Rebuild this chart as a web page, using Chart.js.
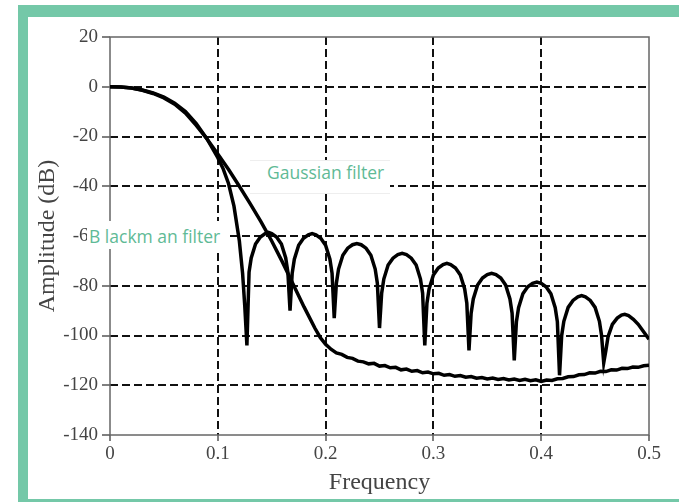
<!DOCTYPE html>
<html><head><meta charset="utf-8">
<script src="https://cdn.jsdelivr.net/npm/chart.js@4"></script>
<style>
html,body{margin:0;padding:0;background:#fff;overflow:hidden}
#wrap{position:relative;width:679px;height:502px;overflow:hidden}
#c{position:absolute;left:0;top:0}
#frame{position:absolute;left:18px;top:5px;width:700px;height:482px;border-top:12px solid #74c8a8;border-left:10px solid #74c8a8;border-bottom:6px solid #74c8a8;pointer-events:none}
.lbl{position:absolute;background:#fff;color:#5fba96;font-family:'Open Sans','Noto Sans',sans-serif;font-size:17.5px;line-height:22px;white-space:nowrap;box-sizing:border-box}
</style></head>
<body>
<div id="wrap">
<canvas id="c" width="679" height="502"></canvas>
<div id="frame"></div>
<div class="lbl" style="left:250px;top:160px;width:140px;height:34px;padding-left:17px;border-top:1px solid #eee;border-bottom:1px solid #eee;">Gaussian filter</div>
<div class="lbl" style="left:87px;top:221px;width:139px;height:28px;padding-left:2px;padding-top:4px;">B lackm an filter</div>
</div>
<script>
// ---- data ----
const xTickValues = [0, 0.1, 0.2, 0.3, 0.4, 0.5];
const xTickLabels = ['0', '0.1', '0.2', '0.3', '0.4', '0.5'];
const yTickValues = [20, 0, -20, -40, -60, -80, -100, -120, -140];
const yTickLabels = ['20', '0', '-20', '-40', '-60', '-80', '-100', '-120', '-140'];

const gaussianFreq = [0,0.01,0.02,0.03,0.04,0.05,0.06,0.07,0.08,0.09,0.1,0.11,0.12,0.13,0.14,0.15,0.16,0.17,0.18,0.19,0.195,0.2,0.205,0.21,0.215,0.22,0.225,0.23,0.235,0.24,0.245,0.25,0.255,0.26,0.265,0.27,0.275,0.28,0.285,0.29,0.295,0.3,0.305,0.31,0.315,0.32,0.325,0.33,0.335,0.34,0.345,0.35,0.355,0.36,0.365,0.37,0.375,0.38,0.385,0.39,0.395,0.4,0.405,0.41,0.415,0.42,0.425,0.43,0.435,0.44,0.445,0.45,0.455,0.46,0.465,0.47,0.475,0.48,0.485,0.49,0.495,0.5];
const gaussianAmp = [0,-0.1,-0.5,-1.4,-2.7,-4.5,-7,-10.6,-15.5,-21,-27,-33.3,-40,-47,-54.2,-62,-70.5,-79.5,-88.5,-97,-100.8,-103.5,-105.5,-107,-107.6,-108.8,-109.2,-110.3,-110.6,-111.4,-111.2,-112.3,-112.1,-113,-112.8,-113.8,-113.5,-114.4,-114.1,-115,-114.7,-115.4,-115.2,-116,-115.7,-116.4,-116.1,-116.8,-116.5,-117.2,-116.9,-117.5,-117.1,-117.7,-117.3,-117.9,-117.5,-118.1,-117.6,-118.2,-117.8,-118.5,-117.9,-118.1,-117.4,-117.3,-116.6,-116.5,-115.8,-115.7,-115,-115.1,-114.4,-114.5,-113.8,-113.9,-113.2,-113.3,-112.7,-112.8,-112.2,-112];

const blackmanFreq = [0,0.01,0.02,0.03,0.04,0.05,0.06,0.07,0.08,0.09,0.1,0.105,0.11,0.115,0.12,0.123,0.125,0.127,
 0.129,0.131,0.135,0.1395,0.144,0.147,0.15,0.1545,0.159,0.163,0.165,0.167,
 0.169,0.171,0.175,0.1795,0.184,0.1875,0.191,0.1955,0.2,0.204,0.206,0.208,
 0.21,0.212,0.216,0.2205,0.225,0.229,0.233,0.2375,0.242,0.246,0.248,0.25,
 0.252,0.254,0.258,0.2625,0.267,0.271,0.275,0.2795,0.284,0.288,0.29,0.292,
 0.294,0.296,0.3,0.3045,0.309,0.3125,0.316,0.3205,0.325,0.329,0.331,0.333,
 0.335,0.337,0.341,0.3455,0.35,0.354,0.358,0.3625,0.367,0.371,0.373,0.375,
 0.377,0.379,0.383,0.3875,0.392,0.396,0.4,0.4045,0.409,0.413,0.415,0.417,
 0.419,0.421,0.425,0.4295,0.434,0.4375,0.441,0.4455,0.45,0.454,0.456,0.458,
 0.46,0.462,0.466,0.4705,0.4745,0.4775,0.481,0.4855,0.49,0.495,0.5];
const blackmanAmp = [0,-0.1,-0.5,-1.3,-2.5,-4.2,-6.6,-10,-14.8,-21,-28.5,-33,-39,-48,-62,-75,-88,-104,
 -74.5,-68.8,-63.2,-60.4,-59,-58.5,-59,-60.4,-63.2,-68.8,-74.5,-90,
 -75,-69.3,-63.7,-60.9,-59.5,-59,-59.5,-60.9,-63.7,-69.3,-75,-93,
 -79,-73.3,-67.7,-64.9,-63.5,-63,-63.5,-64.9,-67.7,-73.3,-79,-97,
 -83,-77.3,-71.7,-68.9,-67.5,-67,-67.5,-68.9,-71.7,-77.3,-83,-104,
 -87,-81.3,-75.7,-72.9,-71.5,-71,-71.5,-72.9,-75.7,-81.3,-87,-106,
 -91,-85.3,-79.7,-76.9,-75.5,-75,-75.5,-76.9,-79.7,-85.3,-91,-110,
 -94.5,-88.8,-83.2,-80.4,-79,-78.5,-79,-80.4,-83.2,-88.8,-94.5,-116,
 -100,-94.3,-88.7,-85.9,-84.5,-84,-84.5,-85.9,-88.7,-94.3,-100,-111,
 -106,-100.5,-95.5,-93,-91.8,-91.5,-92,-93.5,-95.5,-98.5,-101.5];

const toPts = (xs, ys) => xs.map((x, i) => ({x: x, y: ys[i]}));

const framePlugin = {
  id: 'frame',
  beforeDatasetsDraw(chart) {
    const {ctx, chartArea: a} = chart;
    ctx.save();
    ctx.strokeStyle = '#666';
    ctx.lineWidth = 1.5;
    ctx.strokeRect(a.left, a.top, a.right - a.left, a.bottom - a.top);
    ctx.restore();
  }
};

const serif = "'Liberation Serif','DejaVu Serif',serif";

new Chart(document.getElementById('c'), {
  type: 'line',
  data: {
    datasets: [
      {label: 'Gaussian filter', data: toPts(gaussianFreq, gaussianAmp), borderColor: '#000', borderWidth: 3.5, pointRadius: 0, tension: 0, fill: false},
      {label: 'Blackman filter', data: toPts(blackmanFreq, blackmanAmp), borderColor: '#000', borderWidth: 3.5, pointRadius: 0, tension: 0, fill: false}
    ]
  },
  options: {
    responsive: false, animation: false, devicePixelRatio: 1,
    layout: {padding: {left: 0, right: 30, top: 37, bottom: 0}},
    plugins: {legend: {display: false}, tooltip: {enabled: false}},
    scales: {
      x: {
        type: 'linear', min: 0, max: 0.5,
        afterBuildTicks: s => { s.ticks = xTickValues.map(v => ({value: v})); },
        afterFit: s => { s.height = 67; },
        ticks: {callback: (v, i) => xTickLabels[i], font: {family: serif, size: 19}, color: '#444', padding: 2, maxRotation: 0, autoSkip: false},
        grid: {color: c => (c.tick && (c.tick.value === 0 || c.tick.value === 0.5)) ? 'rgba(0,0,0,0)' : '#111', lineWidth: 2, tickLength: 6, tickColor: '#555', tickWidth: 1.5, tickBorderDash: []},
        border: {display: false, dash: [8, 4]},
        title: {display: true, text: 'Frequency', font: {family: serif, size: 24}, color: '#444', padding: {top: 0, bottom: 5}}
      },
      y: {
        type: 'linear', min: -140, max: 20,
        afterBuildTicks: s => { s.ticks = yTickValues.map(v => ({value: v})); },
        afterFit: s => { s.width = 110; },
        ticks: {callback: (v, i) => yTickLabels[i], font: {family: serif, size: 19}, color: '#444', padding: 4, autoSkip: false},
        grid: {color: c => (c.tick && (c.tick.value === 20 || c.tick.value === -140)) ? 'rgba(0,0,0,0)' : '#111', lineWidth: 2, tickLength: 8, tickColor: '#555', tickWidth: 1.5, tickBorderDash: []},
        border: {display: false, dash: [8, 4]},
        title: {display: true, text: 'Amplitude (dB)', font: {family: serif, size: 24}, color: '#444', padding: {top: 33, bottom: 0}}
      }
    }
  },
  plugins: [framePlugin]
});
</script>
</body></html>
